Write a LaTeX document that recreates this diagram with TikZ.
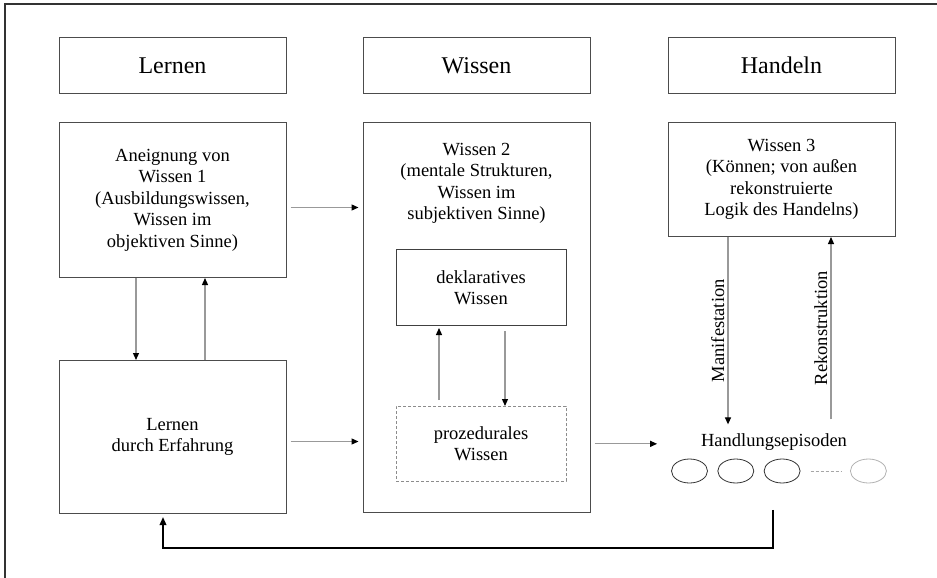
\documentclass[tikz,border=0pt]{standalone}
\usepackage{fontspec}
\setmainfont{Liberation Serif}
\usetikzlibrary{positioning, arrows.meta, shapes.geometric, calc}

\begin{document}
\begin{tikzpicture}[
  x=1pt, y=-1pt,
  frame/.style={draw=black!80, line width=1.5pt},
  head/.style={draw=black!70, line width=1pt, minimum width=227pt, minimum height=56pt,
               font=\fontsize{24}{28}\selectfont},
  box/.style={draw=black!70, line width=1pt, minimum width=227pt, align=center,
              font=\fontsize{18.5}{21.5}\selectfont},
  inbox/.style={draw=black!75, line width=1pt, minimum width=170pt, minimum height=76pt,
                align=center, font=\fontsize{18.5}{21.5}\selectfont},
  txt/.style={align=center, font=\fontsize{18.5}{21.5}\selectfont, inner sep=2pt},
  epi/.style={ellipse, draw=black!80, line width=0.8pt, minimum width=36pt,
              minimum height=24pt, inner sep=0pt},
  arr/.style={-{Triangle[length=7pt, width=6pt, color=black]}, draw=black!40, line width=1.2pt},
  fb/.style={-{Triangle[length=8pt, width=6.5pt]}, draw=black, line width=1.8pt},
  vlbl/.style={font=\fontsize{18.5}{21.5}\selectfont, rotate=90, anchor=south, inner sep=3pt}
]
\useasboundingbox (0,0) rectangle (937,578);

% Frame
\draw[frame] (937,4) -- (5,4) -- (5,578);

% Headers
\node[head] (hLern) at (172.5,65.5) {Lernen};
\node[head, right=76pt of hLern] (hWiss) {Wissen};
\node[head, right=77pt of hWiss] (hHand) {Handeln};

% Boxes
\node[box, minimum height=155pt, below=28pt of hLern] (aneig)
  {Aneignung von\\Wissen 1\\(Ausbildungswissen,\\Wissen im\\objektiven Sinne)};
\node[box, minimum height=153pt, below=82pt of aneig] (erfahr) {Lernen\\durch Erfahrung};
\node[box, minimum height=390pt, below=28pt of hWiss] (wiss2) {};
\node[txt] (w2txt) at ([yshift=-61.5pt]wiss2.north)
  {Wissen 2\\(mentale Strukturen,\\Wissen im\\subjektiven Sinne)};
\node[inbox, below=127pt of wiss2.north, xshift=4.5pt] (dekl) {deklaratives\\Wissen};
\node[inbox, draw=black!45, line width=0.7pt, densely dashed, minimum height=75pt,
      below=80pt of dekl] (proz) {prozedurales\\Wissen};
\node[box, minimum height=114pt, below=28pt of hHand] (wiss3)
  {Wissen 3\\(K\"onnen; von au\ss en\\rekonstruierte\\Logik des Handelns)};

% Handlungsepisoden
\node[txt] (handl) at (774,442) {Handlungsepisoden};
\node[epi] (e1) at (689.5,471) {};
\node[epi, right=9.5pt of e1] (e2) {};
\node[epi, right=9.5pt of e2] (e3) {};
\node[epi, draw=black!30, right=49.5pt of e3] (e4) {};
\draw[black!35, line width=0.8pt, densely dashed] ([xshift=10pt]e3.east) -- ([xshift=-8pt]e4.west);

% Arrows
\draw[arr] ([shift={(4,7.5)}]aneig.east) -- ([shift={(-4,7.5)}]aneig.east -| wiss2.west);
\draw[arr] ([shift={(4,4.5)}]erfahr.east) -- ([shift={(-4,4.5)}]erfahr.east -| wiss2.west);
\draw[arr] ([xshift=4pt]wiss2.east |- proz) -- ([xshift=-14pt]e1.west |- proz);
\draw[arr] ([xshift=-36.5pt]aneig.south) -- ([xshift=-36.5pt]erfahr.north);
\draw[arr] ([xshift=32.5pt]erfahr.north) -- ([xshift=32.5pt]aneig.south);
\draw[arr] ([shift={(-42pt,6pt)}]proz.north) -- ([shift={(-42pt,-2pt)}]dekl.south);
\draw[arr] ([shift={(24pt,-5pt)}]dekl.south) -- ([xshift=24pt]proz.north);
\draw[arr] ([xshift=-53.5pt]wiss3.south) -- node[vlbl, midway] {Manifestation}
  ([xshift=-53.5pt, yshift=7pt]wiss3.south |- handl.north);
\draw[arr] ([xshift=49.5pt, yshift=12pt]wiss3.south |- handl.north) -- node[vlbl, midway] {Rekonstruktion}
  ([xshift=49.5pt]wiss3.south);

% Feedback
\draw[fb] ([xshift=-9pt, yshift=-26.5pt]e3.south) -- ++(0,38) -| ([shift={(-9.5pt,-3pt)}]erfahr.south);

\end{tikzpicture}
\end{document}
